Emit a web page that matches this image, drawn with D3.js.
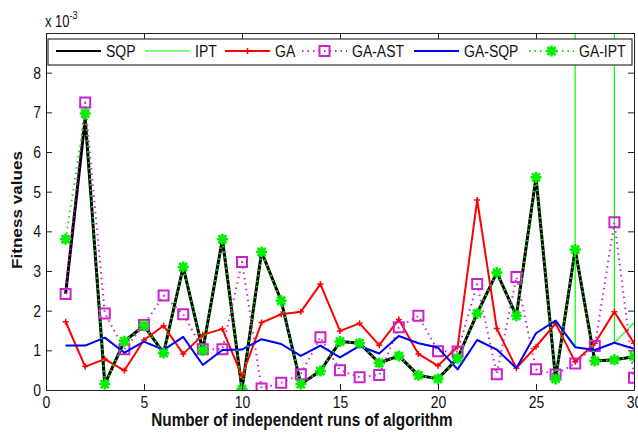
<!DOCTYPE html>
<html>
<head>
<meta charset="utf-8">
<script src="https://cdn.jsdelivr.net/npm/d3@7"></script>
<style>
body { margin: 0; background: #fff; }
svg { font-family: "Liberation Sans", Arial, sans-serif; }
.stretch { transform-box: fill-box; transform-origin: center; transform: scaleY(1.22); }
.stretchx { transform-box: fill-box; transform-origin: center; transform: scaleX(1.12); }
</style>
</head>
<body>
<svg width="638" height="433"></svg>
<script>
// values are in units of 1e-3
const runs = [1, 2, 3, 4, 5, 6, 7, 8, 9, 10, 11, 12, 13, 14, 15, 16, 17, 18, 19, 20, 21, 22, 23, 24, 25, 26, 27, 28, 29, 30];
const sqp = [2.42, 6.85, 0.15, 1.23, 1.62, 0.93, 3.10, 1.00, 3.80, 0.02, 3.48, 2.25, 0.15, 0.48, 1.22, 1.18, 0.68, 0.86, 0.37, 0.28, 0.80, 1.93, 2.96, 1.87, 5.36, 0.28, 3.54, 0.73, 0.76, 0.84];
// run 28 of IPT is far off the scale
const ipt = [1.12, 1.12, 1.32, 0.94, 1.22, 1.01, 1.34, 0.63, 1.01, 1.02, 1.28, 1.16, 0.86, 1.12, 0.82, 1.11, 0.92, 1.36, 1.18, 1.07, 0.52, 1.26, 1.02, 0.55, 1.43, 1.75, 1.08, 5000, 1.19, 1.70];
const ga = [1.72, 0.59, 0.78, 0.49, 1.26, 1.62, 0.91, 1.39, 1.54, 0.35, 1.70, 1.91, 1.97, 2.67, 1.49, 1.68, 1.13, 1.78, 0.91, 0.61, 1.09, 4.79, 1.55, 0.55, 1.09, 1.68, 0.71, 1.18, 1.97, 1.18];
const gaAst = [2.42, 7.25, 1.93, 1.03, 1.64, 2.38, 1.91, 1.03, 1.03, 3.23, 0.04, 0.18, 0.40, 1.33, 0.50, 0.32, 0.38, 1.58, 1.87, 0.98, 0.97, 2.67, 0.40, 2.85, 0.52, 0.39, 0.67, 1.11, 4.23, 0.31];
const gaSqp = [1.12, 1.12, 1.32, 0.94, 1.22, 1.01, 1.34, 0.63, 1.01, 1.02, 1.28, 1.16, 0.86, 1.12, 0.82, 1.11, 0.92, 1.36, 1.18, 1.07, 0.52, 1.26, 1.02, 0.55, 1.43, 1.75, 1.08, 1.01, 1.19, 1.04];
const gaIpt = [3.80, 6.97, 0.15, 1.23, 1.62, 0.93, 3.10, 1.00, 3.80, 0.02, 3.48, 2.25, 0.15, 0.48, 1.22, 1.18, 0.68, 0.86, 0.37, 0.28, 0.80, 1.93, 2.96, 1.87, 5.36, 0.28, 3.54, 0.73, 0.76, 0.84];
const xTicks = [0, 5, 10, 15, 20, 25, 30];
const yTicks = [0, 1, 2, 3, 4, 5, 6, 7, 8];

const series = [
    {name: 'SQP', values: sqp, color: '#000', width: 3, dash: null, marker: null},
    {name: 'IPT', values: ipt, color: '#00ff00', width: 1.2, dash: null, marker: null},
    {name: 'GA', values: ga, color: '#ff0000', width: 2, dash: null, marker: 'plus'},
    {name: 'GA-AST', values: gaAst, color: '#cc22cc', width: 2, dash: '1.5,4', marker: 'square'},
    {name: 'GA-SQP', values: gaSqp, color: '#0000ff', width: 2, dash: null, marker: null},
    {name: 'GA-IPT', values: gaIpt, color: '#00ee00', width: 2, dash: '1.5,4', marker: 'star'}
];
// legend line start x for each entry
const legendX = [56, 145, 225, 302, 414, 529];

const svg = d3.select('svg');
const x = d3.scaleLinear().domain([0, 30]).range([46, 634]);
const y = d3.scaleLinear().domain([0, 9]).range([390, 33]);

svg.append('clipPath').attr('id', 'plot')
    .append('rect')
    .attr('x', x(0)).attr('y', y(9))
    .attr('width', x(30) - x(0)).attr('height', y(0) - y(9));

function markerPath(type) {
    if (type === 'plus') return 'M-3,0H3M0,-3V3';
    if (type === 'star') return 'M-5.5,0H5.5M0,-5.5V5.5M-4,-4L4,4M-4,4L4,-4';
    return 'M-5,-5H5V5H-5Z';
}

const plot = svg.append('g').attr('clip-path', 'url(#plot)');
const line = d3.line().x(function (d, i) { return x(runs[i]) }).y(function (d) { return y(d) });

series.forEach(function (s) {
    const g = plot.append('g');
    g.append('path')
        .attr('d', line(s.values))
        .attr('fill', 'none')
        .attr('stroke', s.color)
        .attr('stroke-width', s.width)
        .attr('stroke-dasharray', s.dash)
        .attr('stroke-linejoin', 'round');
    if (s.marker) {
        g.selectAll('.m')
            .data(s.values)
            .enter().append('path')
            .attr('class', 'm')
            .attr('transform', function (d, i) { return 'translate(' + x(runs[i]) + ',' + y(d) + ')' })
            .attr('d', markerPath(s.marker))
            .attr('fill', 'none')
            .attr('stroke', s.color)
            .attr('stroke-width', s.marker === 'star' ? 2.6 : (s.marker === 'square' ? 2 : 1.5));
    }
});

// axes, ticks pointing inward like matlab
function styleAxis(g) {
    g.selectAll('path.domain').attr('stroke', '#222');
    g.selectAll('.tick line').attr('stroke', '#222');
    g.selectAll('text')
        .attr('font-size', 14)
        .attr('fill', '#111')
        .attr('class', 'stretch');
}

svg.append('g')
    .attr('transform', 'translate(0,' + y(0) + ')')
    .call(d3.axisBottom(x).tickValues(xTicks).tickSizeInner(-6).tickSizeOuter(0).tickPadding(7))
    .call(styleAxis);
svg.append('g')
    .attr('transform', 'translate(0,' + y(9) + ')')
    .call(d3.axisTop(x).tickValues(xTicks).tickSizeInner(-6).tickSizeOuter(0).tickFormat(''))
    .call(styleAxis);
svg.append('g')
    .attr('transform', 'translate(' + x(0) + ',0)')
    .call(d3.axisLeft(y).tickValues(yTicks).tickSizeInner(-6).tickSizeOuter(0).tickPadding(5))
    .call(styleAxis);
svg.append('g')
    .attr('transform', 'translate(' + x(30) + ',0)')
    .call(d3.axisRight(y).tickValues(yTicks).tickSizeInner(-6).tickSizeOuter(0).tickFormat(''))
    .call(styleAxis);

// legend
const legend = svg.append('g');
legend.append('rect')
    .attr('x', 48).attr('y', 39)
    .attr('width', 584).attr('height', 26)
    .attr('fill', '#fff')
    .attr('stroke', '#333')
    .attr('stroke-width', 1.2);

series.forEach(function (s, i) {
    const x0 = legendX[i];
    legend.append('line')
        .attr('x1', x0).attr('x2', x0 + 45)
        .attr('y1', 51).attr('y2', 51)
        .attr('stroke', s.color)
        .attr('stroke-width', s.width > 2.5 ? 2 : s.width)
        .attr('stroke-dasharray', s.dash);
    if (s.marker) {
        legend.append('path')
            .attr('transform', 'translate(' + (x0 + 22.5) + ',51)')
            .attr('d', markerPath(s.marker))
            .attr('fill', 'none')
            .attr('stroke', s.color)
            .attr('stroke-width', s.marker === 'star' ? 2.6 : (s.marker === 'square' ? 2 : 1.5));
    }
    legend.append('text')
        .attr('class', 'stretch')
        .attr('x', x0 + 50).attr('y', 56)
        .attr('font-size', 14)
        .attr('fill', '#111')
        .text(s.name);
});

// labels
svg.append('text')
    .attr('class', 'stretch')
    .attr('x', 302).attr('y', 425)
    .attr('text-anchor', 'middle')
    .attr('font-size', 15.3)
    .attr('font-weight', 'bold')
    .attr('fill', '#111')
    .text('Number of independent runs of algorithm');

svg.append('g')
    .attr('transform', 'translate(22,210) rotate(-90)')
    .append('text')
    .attr('class', 'stretchx')
    .attr('text-anchor', 'middle')
    .attr('font-size', 15.3)
    .attr('font-weight', 'bold')
    .attr('fill', '#111')
    .text('Fitness values');

const exp = svg.append('text')
    .attr('class', 'stretch')
    .attr('x', 45).attr('y', 26)
    .attr('font-size', 13)
    .attr('fill', '#111');
exp.append('tspan').text('x 10');
exp.append('tspan').attr('dy', -7).attr('font-size', 9).text('-3');
</script>
</body>
